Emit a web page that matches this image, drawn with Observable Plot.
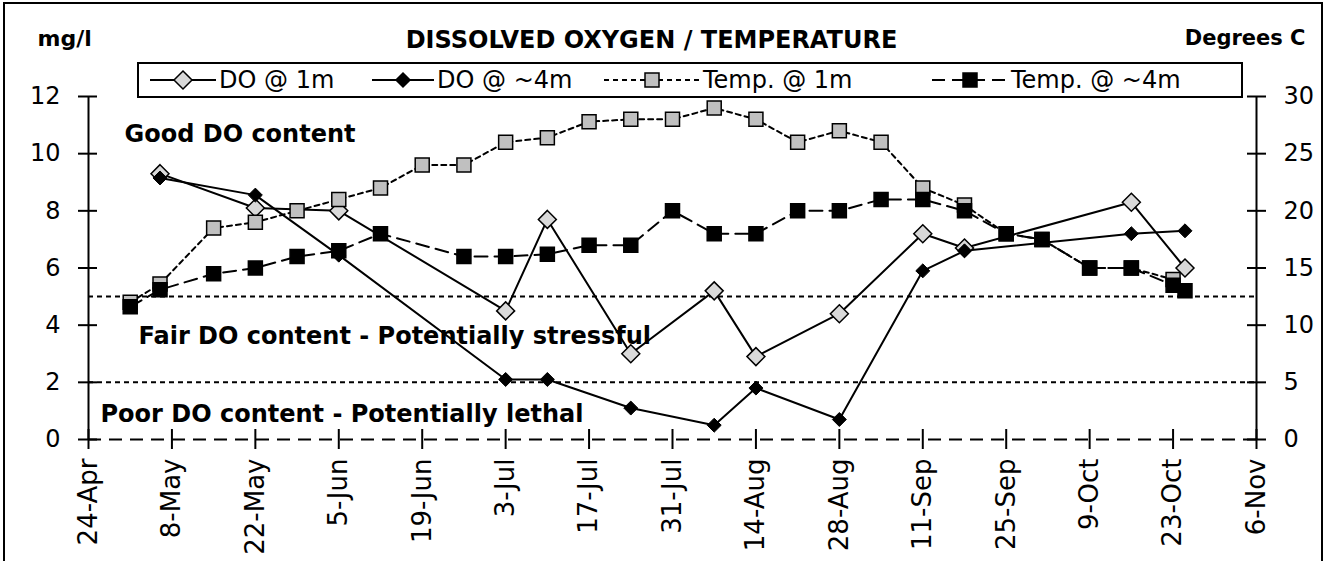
<!DOCTYPE html>
<html><head><meta charset="utf-8">
<script src="https://cdn.jsdelivr.net/npm/d3@7"></script>
<script src="https://cdn.jsdelivr.net/npm/@observablehq/plot@0.6"></script>
<style>
body{margin:0;background:#fff;}
#wrap{position:relative;width:1328px;height:561px;overflow:hidden;background:#fff;font-family:"DejaVu Sans",sans-serif;color:#000;}
#frame{position:absolute;left:3px;top:2px;width:1320px;height:700px;border:2px solid #000;box-sizing:border-box;}
#chart{position:absolute;left:0;top:0;}
#legend{position:absolute;left:137px;top:62px;width:1106px;height:36px;border:2px solid #000;box-sizing:border-box;background:#fff;}
.li{position:absolute;top:0;height:32px;display:flex;align-items:center;font-size:24px;white-space:nowrap;}
.li svg{margin-right:3px;}
</style></head>
<body>
<div id="wrap">
  <div id="frame"></div>
  <div id="chart"></div>
  <div id="legend"></div>
</div>
<script>
// ---- data ----
const doDates = ["2003-05-06","2003-05-22","2003-06-05","2003-07-03","2003-07-10","2003-07-24","2003-08-07","2003-08-14","2003-08-28","2003-09-11","2003-09-18","2003-10-16","2003-10-25"];
const do1m = [9.3, 8.1, 8.0, 4.5, 7.7, 3.0, 5.2, 2.9, 4.4, 7.2, 6.7, 8.3, 6.0];
const do4m = [9.15, 8.55, 6.45, 2.1, 2.1, 1.1, 0.5, 1.8, 0.7, 5.9, 6.6, 7.2, 7.3];

const t1Dates = ["2003-05-01","2003-05-06","2003-05-15","2003-05-22","2003-05-29","2003-06-05","2003-06-12","2003-06-19","2003-06-26","2003-07-03","2003-07-10","2003-07-17","2003-07-24","2003-07-31","2003-08-07","2003-08-14","2003-08-21","2003-08-28","2003-09-04","2003-09-11","2003-09-18","2003-09-25","2003-10-01","2003-10-09","2003-10-16","2003-10-23"];
const temp1m = [12.0, 13.6, 18.5, 19.0, 20.0, 21.0, 22.0, 24.0, 24.0, 26.0, 26.4, 27.8, 28.0, 28.0, 29.0, 28.0, 26.0, 27.0, 26.0, 22.0, 20.5, 18.0, 17.5, 15.0, 15.0, 14.0];

const t4Dates = ["2003-05-01","2003-05-06","2003-05-15","2003-05-22","2003-05-29","2003-06-05","2003-06-12","2003-06-26","2003-07-03","2003-07-10","2003-07-17","2003-07-24","2003-07-31","2003-08-07","2003-08-14","2003-08-21","2003-08-28","2003-09-04","2003-09-11","2003-09-18","2003-09-25","2003-10-01","2003-10-09","2003-10-16","2003-10-23","2003-10-25"];
const temp4m = [11.6, 13.1, 14.5, 15.0, 16.0, 16.5, 18.0, 16.0, 16.0, 16.2, 17.0, 17.0, 20.0, 18.0, 18.0, 20.0, 20.0, 21.0, 21.0, 20.0, 18.0, 17.5, 15.0, 15.0, 13.5, 13.0];

const xTickDates = ["2003-04-24","2003-05-08","2003-05-22","2003-06-05","2003-06-19","2003-07-03","2003-07-17","2003-07-31","2003-08-14","2003-08-28","2003-09-11","2003-09-25","2003-10-09","2003-10-23","2003-11-06"];
const xTickLabels = ["24-Apr","8-May","22-May","5-Jun","19-Jun","3-Jul","17-Jul","31-Jul","14-Aug","28-Aug","11-Sep","25-Sep","9-Oct","23-Oct","6-Nov"];
const doTicks = [0, 2, 4, 6, 8, 10, 12];
const tempTicks = [0, 5, 10, 15, 20, 25, 30];
const thresholds = [5, 2];
const seriesNames = ["DO @ 1m", "DO @ ~4m", "Temp. @ 1m", "Temp. @ ~4m"];
const zoneLabels = ["Good DO content", "Fair DO content - Potentially stressful", "Poor DO content - Potentially lethal"];

// ---- build ----
const parse = d3.utcParse("%Y-%m-%d");
const TEMP_PER_DO = 30 / 12;
const doData = doDates.map((d, i) => ({date: parse(d), do1: do1m[i], do4: do4m[i]}));
const t1Data = t1Dates.map((d, i) => ({date: parse(d), v: temp1m[i] / TEMP_PER_DO}));
const t4Data = t4Dates.map((d, i) => ({date: parse(d), v: temp4m[i] / TEMP_PER_DO}));
const xTicks = xTickDates.map(parse);
const labelOf = new Map(xTicks.map((d, i) => [+d, xTickLabels[i]]));
const xDomain = [xTicks[0], xTicks[xTicks.length - 1]];

const chart = Plot.plot({
  width: 1328, height: 561,
  marginLeft: 88, marginRight: 72, marginTop: 96, marginBottom: 122,
  style: {fontFamily: "DejaVu Sans, sans-serif", fontSize: "24px", background: "transparent", color: "#000", overflow: "visible"},
  x: {type: "utc", domain: xDomain},
  y: {domain: [0, 12]},
  marks: [
    Plot.ruleY(thresholds, {stroke: "#000", strokeWidth: 2, strokeDasharray: "5,4"}),
    Plot.ruleY([0], {stroke: "#000", strokeWidth: 2, strokeDasharray: "13,8"}),
    Plot.ruleX(xDomain, {y1: 0, y2: 12, stroke: "#000", strokeWidth: 2}),
    Plot.axisY({anchor: "left", ticks: doTicks, tickSize: 19, dx: 9, tickPadding: 18, strokeWidth: 2, fontSize: 24, label: null, tickFormat: d => String(d)}),
    Plot.axisY({anchor: "right", ticks: tempTicks.map(t => t / TEMP_PER_DO), tickSize: 19, dx: -10, tickPadding: 18, strokeWidth: 2, fontSize: 24, label: null, tickFormat: d => String(Math.round(d * TEMP_PER_DO))}),
    Plot.axisX({ticks: xTicks, tickFormat: d => labelOf.get(+d), tickSize: 20, dy: -10, tickPadding: 9, tickRotate: -90, strokeWidth: 2, fontSize: 26, label: null}),
    Plot.line(doData, {x: "date", y: "do1", stroke: "#000", strokeWidth: 2}),
    Plot.line(doData, {x: "date", y: "do4", stroke: "#000", strokeWidth: 2}),
    Plot.line(t1Data, {x: "date", y: "v", stroke: "#000", strokeWidth: 2, strokeDasharray: "5,4"}),
    Plot.line(t4Data, {x: "date", y: "v", stroke: "#000", strokeWidth: 2, strokeDasharray: "13,7"}),
    Plot.dot(doData, {x: "date", y: "do1", symbol: "diamond2", r: 8.1, fill: "#d9d9d9", stroke: "#000", strokeWidth: 1.5}),
    Plot.dot(doData, {x: "date", y: "do4", symbol: "diamond2", r: 6.3, fill: "#000", stroke: "#000", strokeWidth: 1}),
    Plot.dot(t1Data, {x: "date", y: "v", symbol: "square", r: 7.9, fill: "#c0c0c0", stroke: "#000", strokeWidth: 1.5}),
    Plot.dot(t4Data, {x: "date", y: "v", symbol: "square", r: 7.9, fill: "#000", stroke: "#000", strokeWidth: 1.5}),
    Plot.text([zoneLabels[0]], {text: d => d, frameAnchor: "top-left", textAnchor: "start", lineAnchor: "middle", dx: 36, dy: 38, fontWeight: "bold", fontSize: 24}),
    Plot.text([zoneLabels[1]], {text: d => d, frameAnchor: "top-left", textAnchor: "start", lineAnchor: "middle", dx: 50, dy: 240, fontWeight: "bold", fontSize: 24}),
    Plot.text([zoneLabels[2]], {text: d => d, frameAnchor: "top-left", textAnchor: "start", lineAnchor: "middle", dx: 12, dy: 318, fontWeight: "bold", fontSize: 24}),
    Plot.text(["DISSOLVED OXYGEN / TEMPERATURE"], {text: d => d, frameAnchor: "top", textAnchor: "middle", lineAnchor: "middle", dx: -21, dy: -56, fontWeight: "bold", fontSize: 24}),
    Plot.text(["mg/l"], {text: d => d, frameAnchor: "top-left", textAnchor: "start", lineAnchor: "middle", dx: -51, dy: -58, fontWeight: "bold", fontSize: 22}),
    Plot.text(["Degrees C"], {text: d => d, frameAnchor: "top-right", textAnchor: "end", lineAnchor: "middle", dx: 49, dy: -58, fontWeight: "bold", fontSize: 21})
  ]
});
document.getElementById("chart").appendChild(chart);

// ---- legend ----
const legend = d3.select("#legend");
const items = [
  {name: seriesNames[0], left: 11, w: 66, dash: null, sym: "diamond", fill: "#d9d9d9", stroke: "#000"},
  {name: seriesNames[1], left: 233, w: 62, dash: null, sym: "diamond", fill: "#000", stroke: "#000", small: true},
  {name: seriesNames[2], left: 465, w: 96, dash: "5,4", sym: "square", fill: "#c0c0c0", stroke: "#000"},
  {name: seriesNames[3], left: 793, w: 76, dash: "13,7", sym: "square", fill: "#000", stroke: "#000"}
];
items.forEach(it => {
  const div = legend.append("div").attr("class", "li").style("left", it.left + "px");
  const svg = div.append("svg").attr("width", it.w).attr("height", 24);
  svg.append("line").attr("x1", 0).attr("x2", it.w).attr("y1", 12).attr("y2", 12)
    .attr("stroke", "#000").attr("stroke-width", 2).attr("stroke-dasharray", it.dash);
  const cx = it.w / 2;
  if (it.sym === "diamond") {
    const h = it.small ? 7 : 9;
    svg.append("path").attr("d", `M${cx},${12 - h}L${cx + h},12L${cx},${12 + h}L${cx - h},12Z`)
      .attr("fill", it.fill).attr("stroke", it.stroke).attr("stroke-width", 1.5);
  } else {
    svg.append("rect").attr("x", cx - 7).attr("y", 5).attr("width", 14).attr("height", 14)
      .attr("fill", it.fill).attr("stroke", it.stroke).attr("stroke-width", 1.5);
  }
  div.append("span").text(it.name);
});
</script>
</body></html>
